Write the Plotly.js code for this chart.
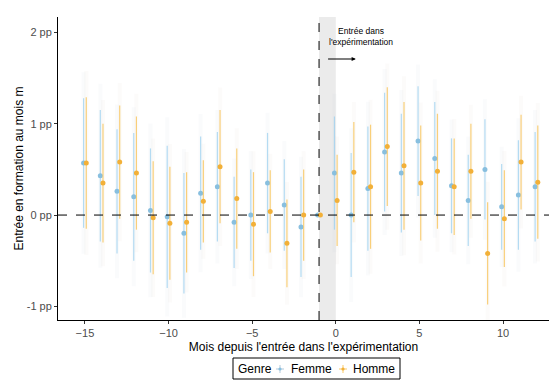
<!DOCTYPE html>
<html>
<head>
<meta charset="utf-8">
<script src="https://cdn.plot.ly/plotly-3.0.1.min.js"></script>
<style>html,body{margin:0;padding:0;background:#fff}#chart{width:559px;height:380px}</style>
</head>
<body>
<div id="chart"></div>
<script>
const months = [-15,-14,-13,-12,-11,-10,-9,-8,-7,-6,-5,-4,-3,-2,-1,0,1,2,3,4,5,6,7,8,9,10,11,12];
const femme  = [0.57,0.43,0.26,0.20,0.05,-0.02,-0.20,0.24,0.31,-0.08,0.00,0.35,0.11,-0.13,0,0.46,0.00,0.29,0.69,0.46,0.81,0.62,0.32,0.16,0.50,0.09,0.22,0.31];
const homme  = [0.57,0.35,0.58,0.46,-0.03,-0.09,-0.08,0.15,0.53,0.18,-0.10,0.04,-0.31,0.00,0,0.16,0.47,0.31,0.75,0.54,0.35,0.48,0.31,0.48,-0.42,-0.04,0.58,0.36];
const ciFemme = [0.71,0.72,0.68,0.70,0.68,0.78,0.66,0.62,0.60,0.50,0.50,0.55,0.50,0.55,0,0.62,0.68,0.68,0.65,0.65,0.60,0.62,0.52,0.50,0.55,0.47,0.60,0.60];
const ciHomme = [0.72,0.65,0.62,0.62,0.62,0.62,0.55,0.45,0.62,0.55,0.57,0.45,0.48,0.50,0,0.50,0.55,0.68,0.65,0.70,0.63,0.63,0.53,0.52,0.56,0.53,0.52,0.62];
const wideFactor = 1.4; // outer (fainter) interval relative to inner interval
const yTicks = [-1,0,1,2];
const yTickText = ['-1 pp','0 pp','1 pp','2 pp'];
const xTicks = [-15,-10,-5,0,5,10];
const refMonth = -1;
const legendTitle = 'Genre';
const seriesNames = ['Femme','Homme'];

const colF = '#88bfdf', colH = '#f2b038';
const barF = 'rgba(150,205,238,0.7)', barH = 'rgba(248,196,90,0.8)';

const dodge = 0.08;
const xF = months.map(m => m - dodge);
const xH = months.map(m => m + dodge);
const wide = arr => arr.map(v => v*wideFactor);

const traces = [
  {x:xF, y:femme, type:'scatter', mode:'markers', showlegend:false, hoverinfo:'skip',
   marker:{size:1, color:'rgba(0,0,0,0)'},
   error_y:{type:'data', array:wide(ciFemme), visible:true, color:'rgba(200,210,225,0.09)', thickness:4, width:0}},
  {x:xH, y:homme, type:'scatter', mode:'markers', showlegend:false, hoverinfo:'skip',
   marker:{size:1, color:'rgba(0,0,0,0)'},
   error_y:{type:'data', array:wide(ciHomme), visible:true, color:'rgba(220,210,200,0.09)', thickness:4, width:0}},
  {x:xF, y:femme, type:'scatter', mode:'markers', name:seriesNames[0], showlegend:false,
   marker:{size:5, color:colF, symbol:'circle'},
   error_y:{type:'data', array:ciFemme, visible:true, color:barF, thickness:1.2, width:0}},
  {x:xH, y:homme, type:'scatter', mode:'markers', name:seriesNames[1], showlegend:false,
   marker:{size:5, color:colH, symbol:'circle'},
   error_y:{type:'data', array:ciHomme, visible:true, color:barH, thickness:1.2, width:0}}
];

// custom legend geometry (paper coords: plot area spans x 58..549 px, y 17..320 px)
const W = 491, H = 303;
const px = p => (p-58)/W, py = p => (320-p)/H;
const legY = 369;
function cross(cx, col, dot){
  return [
    {type:'line', xref:'paper', yref:'paper', x0:px(cx-4), x1:px(cx+4), y0:py(legY), y1:py(legY), line:{color:col, width:1}},
    {type:'line', xref:'paper', yref:'paper', x0:px(cx), x1:px(cx), y0:py(legY-4), y1:py(legY+4), line:{color:col, width:1}},
    {type:'circle', xref:'paper', yref:'paper', x0:px(cx-1.6), x1:px(cx+1.6), y0:py(legY+1.6), y1:py(legY-1.6), fillcolor:dot, line:{width:0}}
  ];
}

const layout = {
  width:559, height:380,
  margin:{l:58, r:10, t:17, b:60},
  paper_bgcolor:'#fff', plot_bgcolor:'#fff',
  showlegend:false,
  font:{family:'Liberation Sans, Arial, sans-serif', size:11, color:'#000'},
  xaxis:{range:[-16.61,12.75], tickvals:xTicks, showgrid:false, zeroline:false, automargin:false,
    showline:true, linecolor:'#000', linewidth:1, ticks:'outside', ticklen:3, tickcolor:'#333',
    tickfont:{size:11, color:'#4d4d4d'},
    title:{text:"Mois depuis l'entrée dans l'expérimentation", font:{size:12, color:'#000'}, standoff:4}},
  yaxis:{range:[-1.15,2.17], tickvals:yTicks, ticktext:yTickText, showgrid:false, zeroline:false, automargin:false,
    showline:true, linecolor:'#000', linewidth:1, ticks:'outside', ticklen:3, tickcolor:'#333',
    tickfont:{size:11, color:'#4d4d4d'},
    title:{text:'Entrée en formation au mois m', font:{size:12, color:'#000'}, standoff:0}},
  shapes:[
    {type:'rect', xref:'x', yref:'paper', x0:refMonth, x1:refMonth+1, y0:0, y1:1, fillcolor:'#ebebeb', line:{width:0}, layer:'below'},
    {type:'line', xref:'x', yref:'paper', x0:refMonth, x1:refMonth, y0:0, y1:1, line:{color:'#000', width:1, dash:'dash'}},
    {type:'line', xref:'paper', yref:'y', x0:0, x1:1, y0:0, y1:0, line:{color:'#000', width:1, dash:'dash'}},
    {type:'rect', xref:'paper', yref:'paper', x0:px(233), x1:px(400), y0:py(379), y1:py(358), line:{color:'#000', width:1}, fillcolor:'rgba(0,0,0,0)'},
    ...cross(280, 'rgba(170,195,215,0.9)', colF),
    ...cross(343, 'rgba(248,196,90,0.9)', colH)
  ],
  annotations:[
    {x:1.5, y:1.96, xref:'x', yref:'y', text:"Entrée dans<br>l'expérimentation", showarrow:false,
     font:{size:8.5, color:'#000'}, align:'center'},
    {x:1.2, y:1.71, ax:-0.55, ay:1.71, xref:'x', yref:'y', axref:'x', ayref:'y', text:'', showarrow:true,
     arrowhead:2, arrowsize:0.7, arrowwidth:1.2, arrowcolor:'#000'},
    {x:px(236), y:py(legY), xref:'paper', yref:'paper', xanchor:'left', yanchor:'middle', text:legendTitle, showarrow:false, font:{size:12, color:'#000'}},
    {x:px(289), y:py(legY), xref:'paper', yref:'paper', xanchor:'left', yanchor:'middle', text:seriesNames[0], showarrow:false, font:{size:12, color:'#000'}},
    {x:px(351), y:py(legY), xref:'paper', yref:'paper', xanchor:'left', yanchor:'middle', text:seriesNames[1], showarrow:false, font:{size:12, color:'#000'}}
  ]
};

Plotly.newPlot('chart', traces, layout, {displayModeBar:false, staticPlot:true});
</script>
</body>
</html>
